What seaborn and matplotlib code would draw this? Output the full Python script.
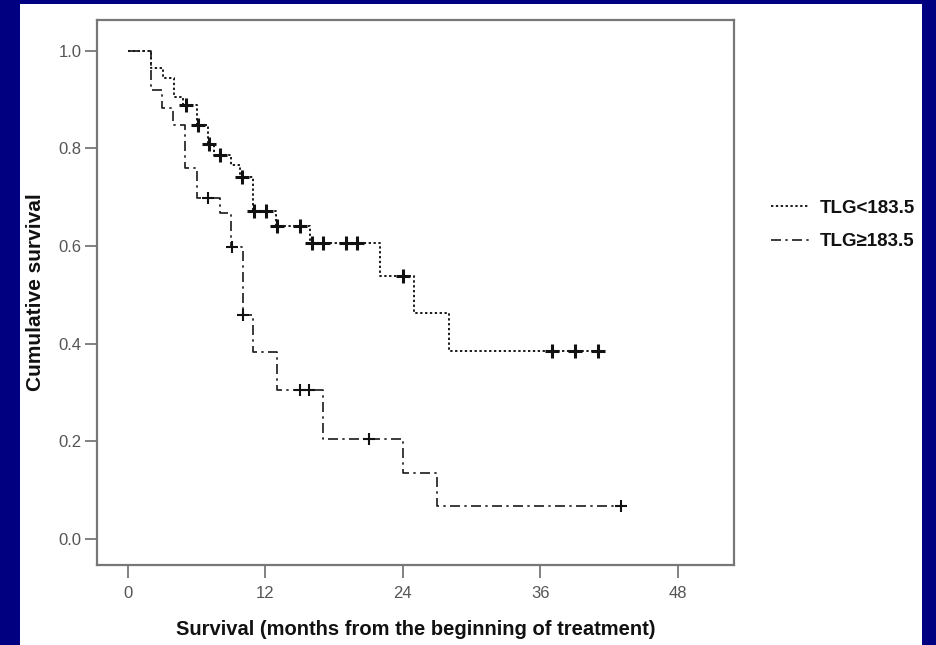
import numpy as np
import pandas as pd
import matplotlib
matplotlib.use("Agg")
import matplotlib.pyplot as plt
from matplotlib.patches import Rectangle
import seaborn as sns

# ---- data ----
groups = ["TLG<183.5", "TLG\u2265183.5"]

low_times = [0, 2.0, 3.1, 4.0, 4.8, 6.0, 7.0, 7.5, 9.0, 9.8, 10.9, 12.9, 15.9, 22.0, 25.0, 28.0]
low_surv = [1.0, 0.965, 0.944, 0.906, 0.889, 0.848, 0.809, 0.787, 0.766, 0.742, 0.671, 0.641, 0.606, 0.539, 0.462, 0.385]
low_censor = [5.05, 6.1, 7.05, 8.0, 9.95, 11.0, 12.05, 13.0, 15.0, 16.05, 17.0, 19.0, 20.0, 24.0, 37.0, 39.0, 41.0]

high_times = [0, 2.0, 2.95, 3.95, 4.95, 6.0, 8.0, 9.0, 10.0, 10.9, 13.0, 17.0, 24.0, 27.0]
high_surv = [1.0, 0.92, 0.883, 0.848, 0.76, 0.698, 0.667, 0.598, 0.458, 0.383, 0.305, 0.204, 0.136, 0.068]
high_censor = [7.0, 9.05, 10.05, 15.0, 15.8, 21.0, 43.0]

x_ticks = [0, 12, 24, 36, 48]
y_ticks = [0.0, 0.2, 0.4, 0.6, 0.8, 1.0]


def step_frame(times, surv, censor, label):
    t = list(times) + [max(censor)] if max(censor) > times[-1] else list(times)
    s = list(surv) + [surv[-1]] if max(censor) > times[-1] else list(surv)
    line = pd.DataFrame({"time": t, "surv": s, "group": label})
    idx = np.searchsorted(np.asarray(times), np.asarray(censor), side="right") - 1
    cens = pd.DataFrame({"time": censor, "surv": np.asarray(surv)[idx], "group": label})
    return line, cens


low_line, low_cens = step_frame(low_times, low_surv, low_censor, groups[0])
high_line, high_cens = step_frame(high_times, high_surv, high_censor, groups[1])

# ---- figure ----
sns.set_style("white")
plt.rcParams["font.family"] = ["Liberation Sans", "DejaVu Sans"]

W, H = 937, 645
fig = plt.figure(figsize=(W / 100, H / 100), dpi=100, facecolor="#000080")
fig.add_artist(Rectangle((20 / W, 0), (922 - 20) / W, 1 - 4 / H,
                         transform=fig.transFigure, facecolor="white",
                         edgecolor="none", zorder=-10))

ax = fig.add_axes([97 / W, 1 - 565 / H, (734 - 97) / W, (565 - 20) / H])
ax.set_facecolor("white")

ink = "#1a1a1a"
dotted = (0, (1.2, 1.3))
dashdot = (0, (6.0, 2.6, 1.4, 2.6))

sns.lineplot(data=low_line, x="time", y="surv", ax=ax, drawstyle="steps-post",
             estimator=None, sort=False, color=ink, lw=1.4, linestyle=dotted,
             label=groups[0])
sns.lineplot(data=high_line, x="time", y="surv", ax=ax, drawstyle="steps-post",
             estimator=None, sort=False, color=ink, lw=1.2, linestyle=dashdot,
             label=groups[1])

sns.scatterplot(data=low_cens, x="time", y="surv", ax=ax, marker="+", s=100,
                linewidth=2.2, color="#111111", legend=False, zorder=5)
sns.scatterplot(data=high_cens, x="time", y="surv", ax=ax, marker="+", s=70,
                linewidth=1.5, color="#111111", legend=False, zorder=5)

ax.set_xlim(-2.7, 52.9)
ax.set_ylim(-0.053, 1.063)
ax.set_xticks(x_ticks)
ax.set_xticklabels([str(v) for v in x_ticks])
ax.set_yticks(y_ticks)
ax.set_yticklabels([f"{v:.1f}" for v in y_ticks])

for sp in ax.spines.values():
    sp.set_visible(True)
    sp.set_color("#777777")
    sp.set_linewidth(1.6)

ax.tick_params(axis="both", which="major", direction="out", length=9, width=1.3,
               color="#777777", labelcolor="#555555", labelsize=12,
               left=True, bottom=True, top=False, right=False)
ax.tick_params(axis="y", pad=2)
ax.tick_params(axis="x", pad=6)

ax.set_xlabel("Survival (months from the beginning of treatment)",
              fontsize=14.5, fontweight="bold", color="#111111", labelpad=14)
ax.set_ylabel("Cumulative survival", fontsize=15, fontweight="bold",
              color="#111111", labelpad=10)

handles, labels = ax.get_legend_handles_labels()
if ax.legend_ is not None:
    ax.legend_.remove()
leg = fig.legend(handles, labels, loc="center left",
                 bbox_to_anchor=(762 / W, 1 - 225 / H), frameon=False,
                 borderpad=0, handlelength=2.0, handletextpad=0.6,
                 labelspacing=0.85, prop={"weight": "bold", "size": 13.5})
for t in leg.get_texts():
    t.set_color("#111111")

fig.savefig("out.png", dpi=100, facecolor=fig.get_facecolor())
